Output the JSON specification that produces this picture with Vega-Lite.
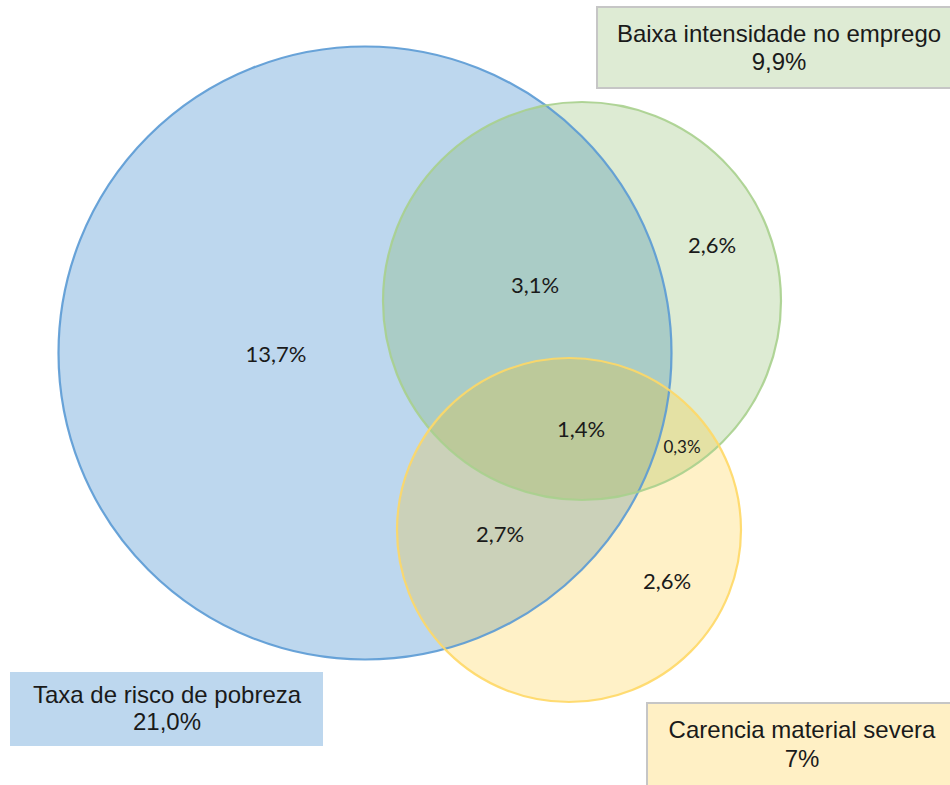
{
  "$schema": "https://vega.github.io/schema/vega-lite/v6.json",
  "width": 950,
  "height": 785,
  "padding": 0,
  "autosize": {"type": "none"},
  "background": "white",
  "config": {"view": {"stroke": null}},
  "datasets": {
    "circles": [
      {"set": "Taxa de risco de pobreza", "cx": 36.5, "cy": 35.3, "d": 61.3, "fill": "#5b9bd5", "stroke": "#5b9bd5", "op": 0.4, "order": 1},
      {"set": "Baixa intensidade no emprego", "cx": 58.2, "cy": 30.1, "d": 39.8, "fill": "#70ad47", "stroke": "#a9d18e", "op": 0.24, "order": 2},
      {"set": "Carencia material severa", "cx": 56.9, "cy": 53.0, "d": 34.4, "fill": "#ffc000", "stroke": "#ffd966", "op": 0.22, "order": 3}
    ],
    "regions": [
      {"label": "13,7%", "x": 27.6, "y": 35.5, "small": false},
      {"label": "3,1%", "x": 53.5, "y": 28.6, "small": false},
      {"label": "2,6%", "x": 71.2, "y": 24.6, "small": false},
      {"label": "1,4%", "x": 58.1, "y": 43.0, "small": false},
      {"label": "0,3%", "x": 68.2, "y": 44.8, "small": true},
      {"label": "2,7%", "x": 50.0, "y": 53.5, "small": false},
      {"label": "2,6%", "x": 66.7, "y": 58.2, "small": false}
    ],
    "boxes": [
      {"name": "Baixa intensidade no emprego", "value": "9,9%", "x1": 59.7, "x2": 96, "y1": 0.7, "y2": 8.8, "fill": "#deebd4", "stroke": "#c6c6c6"},
      {"name": "Taxa de risco de pobreza", "value": "21,0%", "x1": 1.0, "x2": 32.3, "y1": 67.2, "y2": 74.6, "fill": "#bdd7ee", "stroke": null},
      {"name": "Carencia material severa", "value": "7%", "x1": 64.7, "x2": 96, "y1": 70.3, "y2": 80, "fill": "#fff0c5", "stroke": "#c6c6c6"}
    ],
    "boxtext": [
      {"text": "Baixa intensidade no emprego", "x": 77.9, "y": 3.5},
      {"text": "9,9%", "x": 77.9, "y": 6.3},
      {"text": "Taxa de risco de pobreza", "x": 16.7, "y": 69.6},
      {"text": "21,0%", "x": 16.7, "y": 72.3},
      {"text": "Carencia material severa", "x": 80.2, "y": 73.1},
      {"text": "7%", "x": 80.2, "y": 76.0}
    ]
  },
  "resolve": {"scale": {"x": "shared", "y": "shared"}},
  "layer": [
    {
      "data": {"name": "circles"},
      "mark": {"type": "point", "shape": "circle", "filled": true, "strokeWidth": 0, "opacity": 1},
      "encoding": {
        "x": {"field": "cx", "type": "quantitative", "scale": {"domain": [0, 95], "nice": false, "zero": false}, "axis": null},
        "y": {"field": "cy", "type": "quantitative", "scale": {"domain": [0, 78.5], "nice": false, "zero": false, "reverse": true}, "axis": null},
        "size": {"field": "d", "type": "quantitative", "scale": {"type": "pow", "exponent": 2, "domain": [0, 95], "range": [0, 902500], "nice": false}, "legend": null},
        "fill": {"field": "fill", "type": "nominal", "scale": null},
        "fillOpacity": {"field": "op", "type": "quantitative", "scale": null},
        "order": {"field": "order"}
      }
    },
    {
      "data": {"name": "circles"},
      "mark": {"type": "point", "shape": "circle", "filled": false, "strokeWidth": 2.2, "opacity": 0.9},
      "encoding": {
        "x": {"field": "cx", "type": "quantitative", "axis": null},
        "y": {"field": "cy", "type": "quantitative", "axis": null},
        "size": {"field": "d", "type": "quantitative", "scale": {"type": "pow", "exponent": 2, "domain": [0, 95], "range": [0, 902500], "nice": false}, "legend": null},
        "stroke": {"field": "stroke", "type": "nominal", "scale": null},
        "order": {"field": "order"}
      }
    },
    {
      "data": {"name": "boxes"},
      "mark": {"type": "rect", "strokeWidth": 2},
      "encoding": {
        "x": {"field": "x1", "type": "quantitative"},
        "x2": {"field": "x2"},
        "y": {"field": "y1", "type": "quantitative"},
        "y2": {"field": "y2"},
        "fill": {"field": "fill", "type": "nominal", "scale": null},
        "stroke": {"field": "stroke", "type": "nominal", "scale": null}
      }
    },
    {
      "data": {"name": "boxtext"},
      "mark": {"type": "text", "font": "Liberation Sans", "fontSize": 24, "color": "#1a1a1a", "align": "center", "baseline": "middle"},
      "encoding": {
        "x": {"field": "x", "type": "quantitative"},
        "y": {"field": "y", "type": "quantitative"},
        "text": {"field": "text"}
      }
    },
    {
      "data": {"name": "regions"},
      "mark": {"type": "text", "font": "Lato", "color": "#1a1a1a", "align": "center", "baseline": "middle"},
      "encoding": {
        "x": {"field": "x", "type": "quantitative"},
        "y": {"field": "y", "type": "quantitative"},
        "text": {"field": "label"},
        "size": {"condition": {"test": "datum.small", "value": 17}, "value": 22}
      }
    }
  ]
}
